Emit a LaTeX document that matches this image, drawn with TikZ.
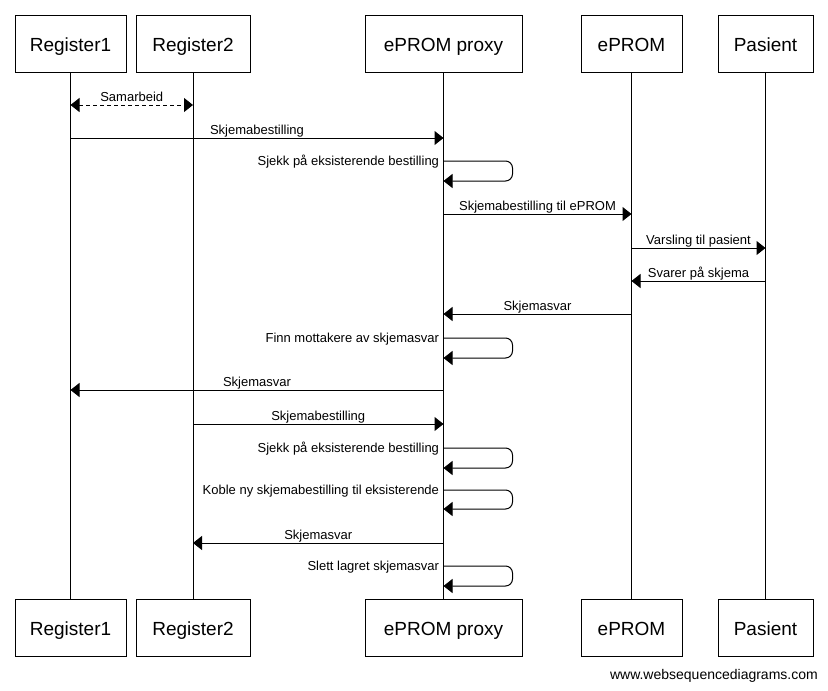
\documentclass[tikz,border=0pt]{standalone}
\usepackage{fontspec}
\setmainfont{Liberation Sans}
\usetikzlibrary{arrows.meta}
\begin{document}
\begin{tikzpicture}[x=1pt,y=-1pt,
  actor/.style={draw, line width=1pt, minimum height=57pt, inner sep=0pt, text height=20pt, text depth=4pt, font=\fontsize{19}{23}\selectfont},
  life/.style={line width=1pt},
  msg/.style={line width=1pt, -{Triangle[length=9pt,width=14pt]}},
  dmsg/.style={line width=1pt, dash pattern=on 4pt off 3pt, {Triangle[length=9pt,width=14pt]}-{Triangle[length=9pt,width=14pt]}},
  lbl/.style={font=\fontsize{13}{15}\selectfont, inner sep=0pt, anchor=base, yshift=4pt},
  slbl/.style={font=\fontsize{13}{15}\selectfont, inner sep=0pt, anchor=base east, xshift=-4pt, yshift=-4.5pt},
  selfmsg/.style={msg, rounded corners=7pt},
  foot/.style={font=\fontsize{14}{16}\selectfont, inner sep=0pt, anchor=base east}]
\useasboundingbox (0,0) rectangle (828,691);
\fill[white] (0,0) rectangle (828,691);

% actors top
\node[actor, minimum width=111pt] (r1t) at (70.5,43.5) {Register1};
\node[actor, minimum width=114pt] (r2t) at (193,43.5) {Register2};
\node[actor, minimum width=157pt] (pt) at (443.5,43.5) {ePROM proxy};
\node[actor, minimum width=101pt] (et) at (631.5,43.5) {ePROM};
\node[actor, minimum width=95pt] (pat) at (765.5,43.5) {Pasient};
% actors bottom
\node[actor, minimum width=111pt] (r1b) at (70.5,627.5) {Register1};
\node[actor, minimum width=114pt] (r2b) at (193,627.5) {Register2};
\node[actor, minimum width=157pt] (pb) at (443.5,627.5) {ePROM proxy};
\node[actor, minimum width=101pt] (eb) at (631.5,627.5) {ePROM};
\node[actor, minimum width=95pt] (pab) at (765.5,627.5) {Pasient};

% lifelines
\draw[life] (r1t) -- (r1b);
\draw[life] (r2t) -- (r2b);
\draw[life] (pt) -- (pb);
\draw[life] (et) -- (eb);
\draw[life] (pat) -- (pab);

% levels
\coordinate (L1) at (0,105);
\coordinate (L2) at (0,138);
\coordinate (S1) at (0,161);
\coordinate (L3) at (0,214);
\coordinate (L4) at (0,248);
\coordinate (L5) at (0,281);
\coordinate (L6) at (0,314);
\coordinate (S2) at (0,338);
\coordinate (L7) at (0,390);
\coordinate (L8) at (0,424);
\coordinate (S3) at (0,448);
\coordinate (S4) at (0,490);
\coordinate (L9) at (0,543);
\coordinate (S5) at (0,566);

% messages
\draw[dmsg] (r1t |- L1) -- (r2t |- L1) node[lbl, midway] {Samarbeid};
\draw[msg] (r1t |- L2) -- (pt |- L2) node[lbl, midway] {Skjemabestilling};
\draw[selfmsg] (pt |- S1) node[slbl] {Sjekk på eksisterende bestilling} -- ++(69,0) -- ++(0,20) -- ++(-69,0);
\draw[msg] (pt |- L3) -- (et |- L3) node[lbl, midway] {Skjemabestilling til ePROM};
\draw[msg] (et |- L4) -- (pat |- L4) node[lbl, midway] {Varsling til pasient};
\draw[msg] (pat |- L5) -- (et |- L5) node[lbl, midway] {Svarer på skjema};
\draw[msg] (et |- L6) -- (pt |- L6) node[lbl, midway] {Skjemasvar};
\draw[selfmsg] (pt |- S2) node[slbl] {Finn mottakere av skjemasvar} -- ++(69,0) -- ++(0,20) -- ++(-69,0);
\draw[msg] (pt |- L7) -- (r1t |- L7) node[lbl, midway] {Skjemasvar};
\draw[msg] (r2t |- L8) -- (pt |- L8) node[lbl, midway] {Skjemabestilling};
\draw[selfmsg] (pt |- S3) node[slbl] {Sjekk på eksisterende bestilling} -- ++(69,0) -- ++(0,20) -- ++(-69,0);
\draw[selfmsg] (pt |- S4) node[slbl] {Koble ny skjemabestilling til eksisterende} -- ++(69,0) -- ++(0,19) -- ++(-69,0);
\draw[msg] (pt |- L9) -- (r2t |- L9) node[lbl, midway] {Skjemasvar};
\draw[selfmsg] (pt |- S5) node[slbl] {Slett lagret skjemasvar} -- ++(69,0) -- ++(0,20) -- ++(-69,0);

\node[foot] (footer) at (818,679.5) {www.websequencediagrams.com};
\end{tikzpicture}
\end{document}
